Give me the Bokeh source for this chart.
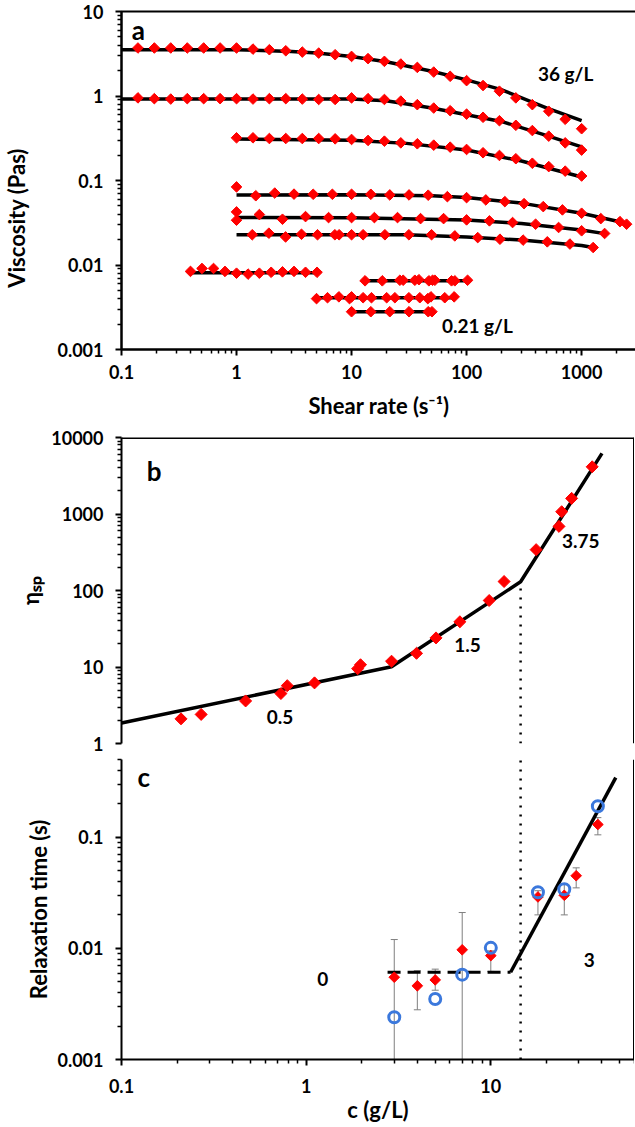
from bokeh.plotting import figure
from bokeh.models import FixedTicker, Label, Span, Whisker, TeeHead, ColumnDataSource
from bokeh.layouts import column
from bokeh.embed import file_html
from bokeh.resources import INLINE

FONT = "Lato"

# ---------------- Panel a data: viscosity vs shear rate ----------------
s1_x = [0.139, 0.193, 0.268, 0.373, 0.518, 0.72, 1.0, 1.39, 1.93, 2.68, 3.73, 5.18, 7.2, 10,
        13.9, 19.3, 26.8, 37.3, 51.8, 72, 100, 139, 193, 268, 373, 518, 720, 1000]
s1_y = [3.7, 3.7, 3.7, 3.7, 3.7, 3.7, 3.7, 3.59, 3.53, 3.43, 3.31, 3.22, 3.08, 2.94,
        2.77, 2.57, 2.39, 2.18, 1.92, 1.71, 1.52, 1.33, 1.14, 0.95, 0.79, 0.66, 0.53, 0.41]
s2_x = [0.139, 0.193, 0.268, 0.373, 0.518, 0.72, 1.0, 1.39, 1.93, 2.68, 3.73, 5.18, 7.2, 10,
        13.9, 19.3, 26.8, 37.3, 51.8, 72, 100, 139, 193, 268, 373, 518, 720, 1000]
s2_y = [0.95, 0.93, 0.92, 0.93, 0.93, 0.93, 0.93, 0.92, 0.93, 0.93, 0.92, 0.91, 0.91, 0.95,
        0.93, 0.91, 0.87, 0.79, 0.72, 0.67, 0.61, 0.56, 0.51, 0.45, 0.39, 0.335, 0.279, 0.229]
s3_x = [1.0, 1.39, 1.93, 2.68, 3.73, 5.18, 7.2, 10, 13.9, 19.3, 26.8, 37.3, 51.8, 72, 100,
        139, 193, 268, 373, 518, 720, 1000]
s3_y = [0.32, 0.32, 0.314, 0.314, 0.314, 0.314, 0.311, 0.306, 0.298, 0.292, 0.279, 0.272,
        0.262, 0.248, 0.233, 0.213, 0.198, 0.181, 0.160, 0.146, 0.129, 0.113]
s4_x = [1, 1.47, 2.15, 3.16, 4.64, 6.81, 10, 14.7, 21.5, 31.6, 46.4, 68.1, 100, 147, 215,
        316, 464, 681, 1000, 1468, 2154, 2460]
s4_y = [0.084, 0.066, 0.071, 0.069, 0.0687, 0.0687, 0.0687, 0.0687, 0.0675, 0.0675, 0.067,
        0.0644, 0.0627, 0.0589, 0.0562, 0.0532, 0.0491, 0.0449, 0.0410, 0.0354, 0.0326, 0.0304]
s5_x = [1, 1, 1.58, 2.51, 3.98, 6.31, 10, 15.8, 25.1, 39.8, 63.1, 100, 158, 251, 398, 631,
        1000, 1585]
s5_y = [0.0425, 0.0339, 0.0395, 0.0348, 0.0374, 0.0364, 0.0364, 0.0364, 0.0364, 0.0354,
        0.0354, 0.0342, 0.0333, 0.0318, 0.0304, 0.0278, 0.0254, 0.0236]
s6_x = [1.37, 1.91, 2.67, 3.67, 5.06, 7.16, 7.8, 10, 12.6, 19.5, 31.5, 49.6, 79, 125, 195,
        310, 503, 791, 1260]
s6_y = [0.0228, 0.0238, 0.0215, 0.0231, 0.0228, 0.0228, 0.0228, 0.0228, 0.0228, 0.0228,
        0.0228, 0.0228, 0.0221, 0.0211, 0.0202, 0.0197, 0.0188, 0.0177, 0.0161]
s7_x = [0.398, 0.501, 0.631, 0.794, 1, 1.26, 1.58, 2.0, 2.51, 3.16, 3.98, 5.01]
s7_y = [0.0084, 0.0091, 0.0091, 0.0084, 0.0080, 0.0078, 0.0080, 0.0082, 0.0083, 0.0084,
        0.0082, 0.0082]
s8_x = [13.1, 18.5, 26.3, 28.1, 35.5, 38.5, 47, 50.6, 53, 74, 79, 102]
s8_y = [0.0065, 0.0065, 0.0066, 0.0066, 0.0066, 0.0067, 0.0065, 0.0066, 0.0066, 0.0065,
        0.0065, 0.0066]
s9_x = [4.96, 6.18, 7.76, 9.6, 10, 12.6, 14.9, 20.2, 23.8, 31.5, 39.2, 46, 49, 64.6, 78]
s9_y = [0.0040, 0.0041, 0.0042, 0.0040, 0.0042, 0.0041, 0.0041, 0.0041, 0.0041, 0.0041,
        0.0041, 0.0040, 0.0042, 0.0041, 0.0042]
s10_x = [10, 14.7, 21.5, 31.6, 46.4, 50]
s10_y = [0.0028, 0.0028, 0.0028, 0.0028, 0.0028, 0.0028]

# fitted curves (panel a)
f1_x = [0.1, 1, 3, 5, 10, 20, 50, 100, 200, 500, 1000]
f1_y = [3.53, 3.53, 3.37, 3.22, 2.94, 2.54, 1.96, 1.55, 1.19, 0.72, 0.51]
f2_x = [0.1, 1, 10, 20, 50, 100, 200, 500, 1000]
f2_y = [0.92, 0.92, 0.92, 0.88, 0.72, 0.60, 0.50, 0.34, 0.25]
f3_x = [1, 10, 30, 100, 300, 1000]
f3_y = [0.31, 0.30, 0.275, 0.23, 0.17, 0.11]
f4_x = [1, 10, 50, 100, 300, 1000, 2500]
f4_y = [0.0675, 0.068, 0.066, 0.063, 0.054, 0.041, 0.031]
f5_x = [1, 10, 100, 300, 1000, 1585]
f5_y = [0.0365, 0.0362, 0.034, 0.031, 0.026, 0.0235]
f6_x = [1, 30, 100, 300, 1000, 1260]
f6_y = [0.0228, 0.0228, 0.0215, 0.0197, 0.0170, 0.0161]
f7_x = [0.398, 5.01]
f7_y = [0.0081, 0.0081]
f8_x = [13.1, 102]
f8_y = [0.0065, 0.0065]
f9_x = [4.96, 78]
f9_y = [0.0041, 0.0041]
f10_x = [10, 50]
f10_y = [0.0028, 0.0028]

a_series = [(s1_x, s1_y), (s2_x, s2_y), (s3_x, s3_y), (s4_x, s4_y), (s5_x, s5_y),
            (s6_x, s6_y), (s7_x, s7_y), (s8_x, s8_y), (s9_x, s9_y), (s10_x, s10_y)]
a_fits = [(f1_x, f1_y), (f2_x, f2_y), (f3_x, f3_y), (f4_x, f4_y), (f5_x, f5_y),
          (f6_x, f6_y), (f7_x, f7_y), (f8_x, f8_y), (f9_x, f9_y), (f10_x, f10_y)]

a_xticks = [0.1, 1, 10, 100, 1000]
a_xtick_labels = ["0.1", "1", "10", "100", "1000"]
a_yticks = [0.001, 0.01, 0.1, 1, 10]
a_ytick_labels = ["0.001", "0.01", "0.1", "1", "10"]

# ---------------- Panel b data: specific viscosity vs c ----------------
b_c = [0.21, 0.27, 0.47, 0.73, 0.79, 1.11, 1.90, 1.97, 2.90, 3.96, 5.05, 6.8, 9.8, 11.8,
       17.6, 23.4, 24.2, 27.4, 35.4]
b_eta = [2.1, 2.4, 3.6, 4.5, 5.7, 6.2, 9.5, 10.7, 11.9, 15.1, 24, 39, 74, 131, 342, 689,
         1071, 1600, 4140]
b_fit_c = [0.1, 2.9, 14.5, 40]
b_fit_eta = [1.85, 10.1, 130, 6200]
b_yticks = [1, 10, 100, 1000, 10000]
b_ytick_labels = ["1", "10", "100", "1000", "10000"]

# ---------------- Panel c data: relaxation time vs c ----------------
c_red_c = [3, 4, 5, 7, 10, 18, 25, 29, 38]
c_red_t = [0.0055, 0.0046, 0.0052, 0.0097, 0.0086, 0.029, 0.030, 0.045, 0.13]
c_err_lo = [0.001, 0.0028, 0.0042, 0.001, 0.0062, 0.020, 0.020, 0.035, 0.105]
c_err_hi = [0.012, 0.0063, 0.0065, 0.021, 0.0095, 0.033, 0.038, 0.053, 0.15]
c_blue_c = [3, 5, 7, 10, 18, 25, 38]
c_blue_t = [0.0024, 0.0035, 0.0058, 0.0101, 0.032, 0.034, 0.19]
c_fit0_c = [2.76, 12.8]
c_fit0_t = [0.0061, 0.0061]
c_fit3_c = [12.8, 47.5]
c_fit3_t = [0.0061, 0.344]
c_xticks = [0.1, 1, 10]
c_xtick_labels = ["0.1", "1", "10"]
c_yticks = [0.001, 0.01, 0.1]
c_ytick_labels = ["0.001", "0.01", "0.1"]

bc_x_range = (0.1, 60)
b_y_range = (1, 10000)
c_y_range = (0.001, 0.5)


def minor_list(lo_exp, hi_exp):
    return [m * 10.0 ** e for e in range(lo_exp, hi_exp) for m in range(2, 10)]


def setup_axis(ax, ticks, labels, minors, standoff=10):
    ax.ticker = FixedTicker(ticks=ticks, minor_ticks=minors)
    ax.major_label_overrides = dict(zip(ticks, labels))
    ax.major_label_text_font = FONT
    ax.major_label_text_font_style = "bold"
    ax.major_label_text_font_size = "18px"
    ax.major_label_text_color = "black"
    ax.major_label_standoff = standoff
    ax.axis_line_color = "black"
    ax.axis_line_width = 2
    ax.major_tick_line_color = "black"
    ax.major_tick_line_width = 2
    ax.major_tick_out = 6
    ax.major_tick_in = 0
    ax.minor_tick_line_color = "black"
    ax.minor_tick_line_width = 1.5
    ax.minor_tick_out = 4
    ax.minor_tick_in = 0
    ax.axis_label_text_font = FONT
    ax.axis_label_text_font_style = "bold"
    ax.axis_label_text_font_size = "22px"
    ax.axis_label_text_color = "black"


def add_text(p, x, y, text, size="19px"):
    p.add_layout(Label(x=x, y=y, text=text, text_font=FONT, text_font_style="bold",
                       text_font_size=size, text_color="black",
                       text_baseline="middle", text_align="left"))


def base_fig(x_range, y_range, fw, fh, top, bottom, right):
    p = figure(x_axis_type="log", y_axis_type="log", x_range=x_range, y_range=y_range,
               frame_width=fw, frame_height=fh, min_border_left=117,
               min_border_right=right, min_border_top=top, min_border_bottom=bottom,
               output_backend="svg", toolbar_location=None)
    p.xgrid.visible = False
    p.ygrid.visible = False
    p.background_fill_color = "white"
    p.border_fill_color = "white"
    return p


# ---------------- Panel a ----------------
pa = base_fig((0.1, 3000), (0.001, 10), 515, 338, 11, 72, 2)
pa.outline_line_color = "black"
pa.outline_line_width = 2
setup_axis(pa.xaxis[0], a_xticks, a_xtick_labels, minor_list(-1, 4), standoff=9)
setup_axis(pa.yaxis[0], a_yticks, a_ytick_labels, minor_list(-3, 1), standoff=12)
pa.xaxis.axis_label = "Shear rate (s⁻¹)"
pa.xaxis.axis_label_standoff = 10
pa.yaxis.axis_label = "Viscosity (Pas)" + "\u00a0" * 14
pa.yaxis.axis_label_standoff = 24
for fx, fy in a_fits:
    pa.line(fx, fy, line_color="black", line_width=3.5)
for sx, sy in a_series:
    pa.scatter(sx, sy, marker="square", angle=0.785398, size=7.5,
               fill_color="#ff0000", line_color="#ff0000")
add_text(pa, 0.123, 6.05, "a", size="26px")
add_text(pa, 417, 1.85, "36 g/L")
add_text(pa, 61, 0.00192, "0.21 g/L")

# ---------------- Panel b ----------------
pb = base_fig(bc_x_range, b_y_range, 513, 306, 16, 11, 4)
pb.outline_line_color = None
pb.xaxis.visible = False
setup_axis(pb.yaxis[0], b_yticks, b_ytick_labels, minor_list(0, 4), standoff=12)
pb.yaxis.axis_label = "ηₛₚ"
pb.yaxis.axis_label_standoff = 4
pb.add_layout(Span(location=b_y_range[1], dimension="width", line_color="black", line_width=3))
pb.add_layout(Span(location=bc_x_range[1], dimension="height", line_color="black", line_width=3))
pb.line([b_fit_c[2], b_fit_c[2]], [b_y_range[0], b_fit_eta[2]], line_color="black",
        line_width=2.5, line_dash="2 7")
pb.line(b_fit_c, b_fit_eta, line_color="black", line_width=3.5)
pb.scatter(b_c, b_eta, marker="square", angle=0.785398, size=8.5,
           fill_color="#ff0000", line_color="#ff0000")
add_text(pb, 0.137, 3675, "b", size="26px")
add_text(pb, 0.611, 2.19, "0.5")
add_text(pb, 6.34, 19.6, "1.5")
add_text(pb, 24.3, 448, "3.75")

# ---------------- Panel c ----------------
pc = base_fig(bc_x_range, c_y_range, 513, 300, 5, 62, 4)
pc.outline_line_color = None
setup_axis(pc.xaxis[0], c_xticks, c_xtick_labels, minor_list(-1, 2), standoff=13)
setup_axis(pc.yaxis[0], c_yticks, c_ytick_labels, minor_list(-3, 0), standoff=12)
pc.xaxis.axis_label = "c (g/L)"
pc.xaxis.axis_label_standoff = 0
pc.yaxis.axis_label = "Relaxation time (s)"
pc.yaxis.axis_label_standoff = 2
pc.add_layout(Span(location=bc_x_range[1], dimension="height", line_color="black", line_width=3))
pc.line([b_fit_c[2], b_fit_c[2]], [c_y_range[0], c_y_range[1]], line_color="black",
        line_width=2.5, line_dash="2 7")
err_src = ColumnDataSource(dict(base=c_red_c, lower=c_err_lo, upper=c_err_hi))
wh = Whisker(source=err_src, base="base", lower="lower", upper="upper", dimension="height",
             line_color="#7f7f7f", line_width=1,
             upper_head=TeeHead(size=7, line_color="#7f7f7f", line_width=1),
             lower_head=TeeHead(size=7, line_color="#7f7f7f", line_width=1),
             level="underlay")
pc.add_layout(wh)
pc.line(c_fit0_c, c_fit0_t, line_color="black", line_width=3, line_dash="13 7")
pc.line(c_fit3_c, c_fit3_t, line_color="black", line_width=3.5)
pc.scatter(c_red_c, c_red_t, marker="square", angle=0.785398, size=7.5,
           fill_color="#ff0000", line_color="#ff0000")
pc.scatter(c_blue_c, c_blue_t, marker="circle", size=11, fill_color=None,
           line_color="#3b78dc", line_width=3)
add_text(pc, 0.122, 0.349, "c", size="26px")
add_text(pc, 1.15, 0.00532, "0")
add_text(pc, 31.9, 0.00787, "3")

layout = column(pa, pb, pc, spacing=0)
open("out.html", "w").write(file_html(layout, INLINE))
